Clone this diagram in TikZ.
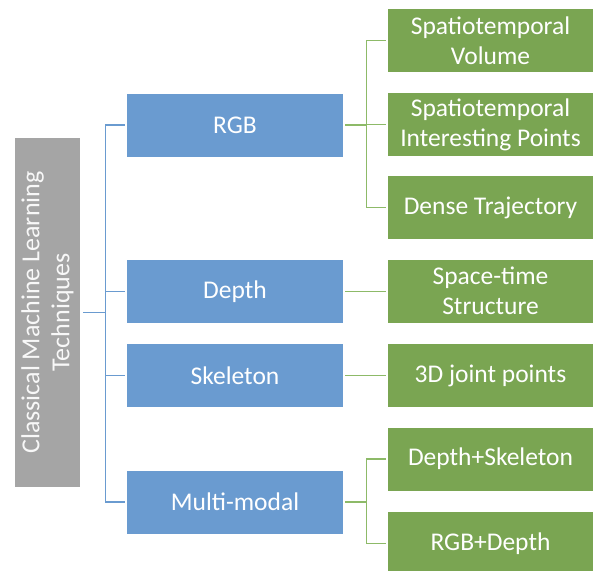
\documentclass[tikz,border=0pt]{standalone}
\usepackage{fontspec}
\setmainfont{Carlito}
\usetikzlibrary{positioning}

\definecolor{rootgray}{HTML}{A5A5A5}
\definecolor{catblue}{HTML}{6A9BD0}
\definecolor{leafgreen}{HTML}{7AA552}
\definecolor{linkgreen}{HTML}{8DBA68}

\begin{document}
\begin{tikzpicture}[x=1pt,y=-1pt,
		box/.style={rectangle,inner sep=0pt,text=white,align=center,font=\fontsize{25.5}{30}\selectfont},
		rootbox/.style={box,fill=rootgray,text=white!92!rootgray,rotate=90,minimum width=349pt,minimum height=65pt,font=\fontsize{26}{30}\selectfont},
		catbox/.style={box,fill=catblue,minimum width=216pt,minimum height=63pt},
		leafbox/.style={box,fill=leafgreen,minimum width=205pt,minimum height=63pt},
		bluelink/.style={draw=catblue,line width=1.2pt,shorten <=3pt,shorten >=2pt},
		greenlink/.style={draw=linkgreen,line width=1.2pt,shorten <=2pt,shorten >=2pt}]
		\useasboundingbox (0,0) rectangle (593,570);
		\node[rootbox] (root) at (47.5,312.5) {Classical Machine Learning\\Techniques};
		\node[catbox] (rgb) at (235,125) {RGB};
		\node[catbox] (depth) at (235,291.5) {Depth};
		\node[catbox] (skel) at (235,375.5) {Skeleton};
		\node[catbox] (multi) at (235,502) {Multi-modal};
		\node[leafbox] (vol) at (490.5,40.5) {Spatiotemporal\\Volume};
		\node[leafbox] (sip) at (490.5,124.5) {Spatiotemporal\\Interesting Points};
		\node[leafbox] (dt) at (490.5,207.5) {Dense Trajectory};
		\node[leafbox] (sts) at (490.5,291) {Space-time\\Structure};
		\node[leafbox] (joint) at (490.5,375.5) {3D joint points};
		\node[leafbox] (ds) at (490.5,459) {Depth+Skeleton};
		\node[leafbox] (rd) at (490.5,543.5) {RGB+Depth};
		\foreach \n in {rgb,depth,skel,multi}
			\draw[bluelink] (root.south) -- ++(25,0) |- (\n.west);
		\foreach \n in {vol,sip,dt}
			\draw[greenlink] (rgb.east) -- ++(23,0) |- (\n.west);
		\draw[greenlink] (depth.east) -- (depth.east -| sts.west);
		\draw[greenlink] (skel.east) -- (skel.east -| joint.west);
		\foreach \n in {ds,rd}
			\draw[greenlink] (multi.east) -- ++(23,0) |- (\n.west);
\end{tikzpicture}
\end{document}
